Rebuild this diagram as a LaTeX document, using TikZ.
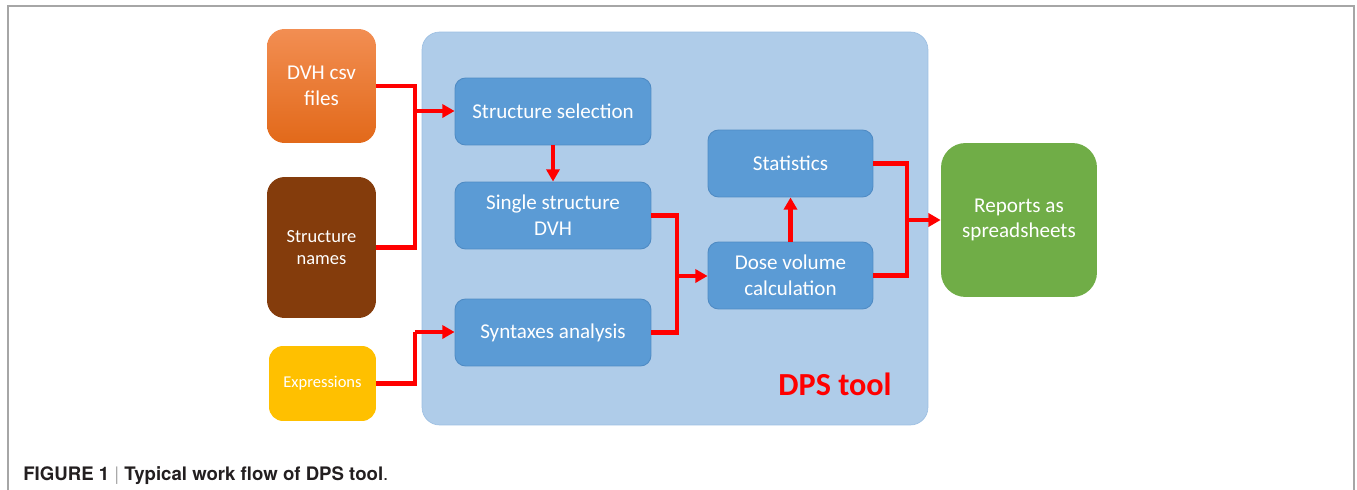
\documentclass[tikz,border=0pt]{standalone}
\usepackage{fontspec}
\setmainfont{Carlito}
\newfontfamily\capfont{TeX Gyre Heros}
\usetikzlibrary{arrows.meta,calc}
\definecolor{boxblue}{HTML}{5B9BD5}
\definecolor{boxblueedge}{HTML}{4F8BC4}
\definecolor{panel}{HTML}{AFCCE9}
\definecolor{paneledge}{HTML}{9DBFE2}
\definecolor{orangetop}{HTML}{F28E52}
\definecolor{orangebot}{HTML}{E2691A}
\definecolor{brown}{HTML}{843C0C}
\definecolor{yellowbox}{HTML}{FFC000}
\definecolor{greenbox}{HTML}{70AD47}
\definecolor{arrowred}{HTML}{FF0000}
\definecolor{captext}{HTML}{231F20}
\definecolor{framegray}{HTML}{A6A6A6}
\tikzset{
  proc/.style={draw=boxblueedge, line width=0.5pt, fill=boxblue, rounded corners=6pt,
    minimum width=3.92cm, minimum height=1.34cm, text=white, align=center,
    font=\fontsize{12}{14.6}\selectfont, inner sep=2pt},
  inbox/.style={rounded corners=10pt, minimum width=2.18cm, text=white, align=center,
    font=\fontsize{12}{14.6}\selectfont, inner sep=2pt},
  flow/.style={draw=arrowred, line width=2.3pt},
  flowarrow/.style={flow, -{Triangle[length=7pt,width=7.5pt]}}
}
\begin{document}
\begin{tikzpicture}[x=0.02cm,y=-0.02cm]
\useasboundingbox (0,0) rectangle (1357,490);
% frame
\draw[framegray, line width=0.8pt] (8,490) -- (8,6) -- (1354,6) -- (1354,490);
% container
\node[draw=paneledge, fill=panel, rounded corners=10pt, minimum width=10.12cm, minimum height=7.86cm, inner sep=0pt] (panel) at (675,228.5) {};
\node[text=arrowred, font=\fontsize{18.3}{20}\selectfont\bfseries] (dps) at (835,384) {DPS tool};
% inputs
\node[inbox, top color=orangetop, bottom color=orangebot, minimum height=2.28cm] (dvh) at (321.5,86) {DVH csv\\files};
\node[inbox, fill=brown, minimum height=2.82cm, font=\fontsize{10.5}{12.7}\selectfont] (names) at (321.5,247.5) {Structure\\names};
\node[inbox, fill=yellowbox, minimum width=2.14cm, minimum height=1.5cm, rounded corners=8pt, font=\fontsize{9.4}{11}\selectfont] (expr) at (322.5,383.5) {Expressions};
% process boxes
\node[proc] (sel) at (553,111.5) {Structure selection};
\node[proc] (single) at (553,215.5) {Single structure\\DVH};
\node[proc] (synt) at (553,332.5) {Syntaxes analysis};
\node[proc, minimum width=3.3cm] (stat) at (790.5,163.5) {Statistics};
\node[proc, minimum width=3.3cm] (dose) at (790.5,275.5) {Dose volume\\calculation};
% output
\node[fill=greenbox, rounded corners=14pt, minimum width=3.12cm, minimum height=3.08cm, text=white, align=center, font=\fontsize{12}{14.2}\selectfont] (rep) at (1019,220) {Reports as\\spreadsheets};
% junctions
\coordinate (j1) at (415,111);
\coordinate (j2) at (415,332);
\coordinate (j3) at (677,276);
\coordinate (j4) at (907,220);
% connectors
\draw[flow] (dvh.east) -| (j1) |- (names.east);
\draw[flowarrow] (j1) -- (j1 -| sel.west);
\draw[flow] (expr.east) -| (j2);
\draw[flowarrow] (j2) -- (j2 -| synt.west);
\draw[flowarrow] (sel.south) -- (single.north);
\draw[flow] (single.east) -| (j3) |- (synt.east);
\draw[flowarrow] (j3) -- (j3 -| dose.west);
\draw[flowarrow] (dose.north) -- (stat.south);
\draw[flow] (stat.east) -| (j4) |- (dose.east);
\draw[flowarrow] (j4) -- (j4 -| rep.west);
% caption
\node[anchor=base west, inner sep=0pt, text=captext, font=\capfont\fontsize{10.6}{12}\selectfont] (cap) at (23,480)
  {\textbf{FIGURE 1} {\color{framegray}|} \textbf{Typical work flow of DPS tool}.};
\end{tikzpicture}
\end{document}
